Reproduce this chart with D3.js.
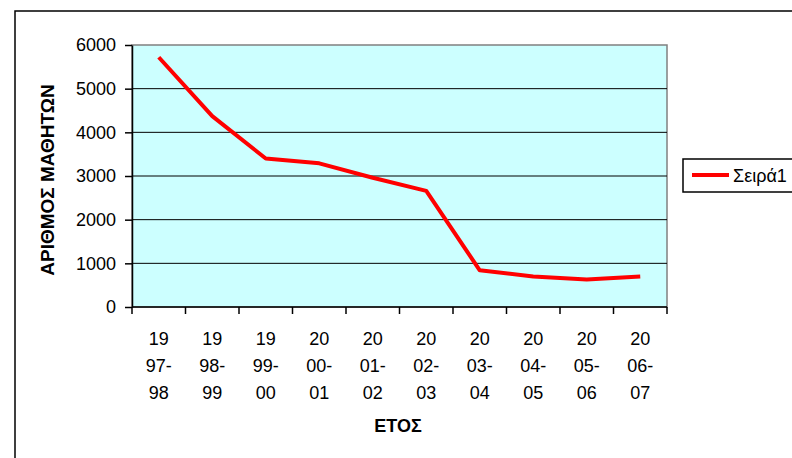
<!DOCTYPE html>
<html>
<head>
<meta charset="utf-8">
<script src="https://cdn.jsdelivr.net/npm/d3@7"></script>
<style>
  body { margin: 0; background: #fff; }
  text { font-family: Arial, "Liberation Sans", sans-serif; }
</style>
</head>
<body>
<svg id="chart"></svg>
<script>
// data
const years = ['1997-98', '1998-99', '1999-00', '2000-01', '2001-02', '2002-03', '2003-04', '2004-05', '2005-06', '2006-07'];
const students = [5720, 4370, 3400, 3290, 2960, 2660, 840, 700, 630, 700];
const yTicks = [0, 1000, 2000, 3000, 4000, 5000, 6000];
const seriesName = 'Σειρά1';

const width = 792;
const height = 458;
const margin = { top: 45, right: 125, bottom: 151, left: 132 };
const fs = 18;

const svg = d3.select('#chart')
  .attr('width', width)
  .attr('height', height);

// outer chart frame (runs off the right and bottom edges)
svg.append('rect')
  .attr('x', 15).attr('y', 11)
  .attr('width', width).attr('height', height)
  .attr('fill', '#fff')
  .attr('stroke', '#000')
  .attr('stroke-width', 1.5);

const x = d3.scaleBand()
  .domain(years)
  .range([margin.left, width - margin.right]);

const y = d3.scaleLinear()
  .domain([0, 6000])
  .range([height - margin.bottom, margin.top]);

// plot area
svg.append('rect')
  .attr('x', margin.left).attr('y', margin.top)
  .attr('width', width - margin.right - margin.left)
  .attr('height', height - margin.bottom - margin.top)
  .attr('fill', '#ccffff')
  .attr('stroke', '#808080')
  .attr('stroke-width', 1.5);

// gridlines
svg.append('g')
  .selectAll('line')
  .data(yTicks.slice(1, -1))
  .join('line')
  .attr('x1', margin.left).attr('x2', width - margin.right)
  .attr('y1', d => y(d)).attr('y2', d => y(d))
  .attr('stroke', '#000')
  .attr('stroke-width', 1);

// y axis
const yAxis = svg.append('g')
  .attr('transform', `translate(${margin.left},0)`)
  .call(d3.axisLeft(y).tickValues(yTicks).tickFormat(d3.format('d'))
    .tickSize(7).tickSizeOuter(0).tickPadding(9));
yAxis.select('.domain').attr('stroke', '#000').attr('stroke-width', 1.5);
yAxis.selectAll('.tick line').attr('stroke', '#000').attr('stroke-width', 1.5);
yAxis.selectAll('.tick text')
  .attr('font-size', fs)
  .attr('fill', '#000');

// x axis with ticks on band edges
const xAxis = svg.append('g')
  .attr('transform', `translate(0,${height - margin.bottom})`);
xAxis.append('line')
  .attr('x1', margin.left).attr('x2', width - margin.right)
  .attr('stroke', '#000').attr('stroke-width', 1.5);
const edges = years.map(d => x(d)).concat([x.range()[1]]);
xAxis.selectAll('.edge')
  .data(edges)
  .join('line')
  .attr('class', 'edge')
  .attr('x1', d => d).attr('x2', d => d)
  .attr('y1', 0).attr('y2', 7)
  .attr('stroke', '#000').attr('stroke-width', 1.5);

// wrapped category labels: "19" / "97-" / "98"
const labels = xAxis.selectAll('.lbl')
  .data(years)
  .join('text')
  .attr('class', 'lbl')
  .attr('text-anchor', 'middle')
  .attr('font-size', fs)
  .attr('fill', '#000');
labels.each(function (d) {
  const parts = [d.slice(0, 2), d.slice(2, 5), d.slice(5)];
  d3.select(this).selectAll('tspan')
    .data(parts)
    .join('tspan')
    .attr('x', x(d) + x.bandwidth() / 2)
    .attr('y', (p, i) => 38 + i * 27)
    .text(p => p);
});

// axis titles
svg.append('text')
  .attr('x', 398)
  .attr('y', 432)
  .attr('text-anchor', 'middle')
  .attr('font-size', 18)
  .attr('font-weight', 'bold')
  .text('ΕΤΟΣ');

svg.append('text')
  .attr('transform', 'translate(54,180) rotate(-90)')
  .attr('text-anchor', 'middle')
  .attr('font-size', 19)
  .attr('font-weight', 'bold')
  .text('ΑΡΙΘΜΟΣ ΜΑΘΗΤΩΝ');

// the series line
const line = d3.line()
  .x((d, i) => x(years[i]) + x.bandwidth() / 2)
  .y(d => y(d));

svg.append('path')
  .datum(students)
  .attr('fill', 'none')
  .attr('stroke', '#ff0000')
  .attr('stroke-width', 4)
  .attr('stroke-linejoin', 'round')
  .attr('d', line);

// legend
const legend = svg.append('g').attr('transform', 'translate(683,159)');
legend.append('rect')
  .attr('width', 130).attr('height', 33)
  .attr('fill', '#fff')
  .attr('stroke', '#000')
  .attr('stroke-width', 1.5);
legend.append('line')
  .attr('x1', 9).attr('x2', 46)
  .attr('y1', 16).attr('y2', 16)
  .attr('stroke', '#ff0000')
  .attr('stroke-width', 4);
legend.append('text')
  .attr('x', 50).attr('y', 23)
  .attr('font-size', fs)
  .text(seriesName);
</script>
</body>
</html>
